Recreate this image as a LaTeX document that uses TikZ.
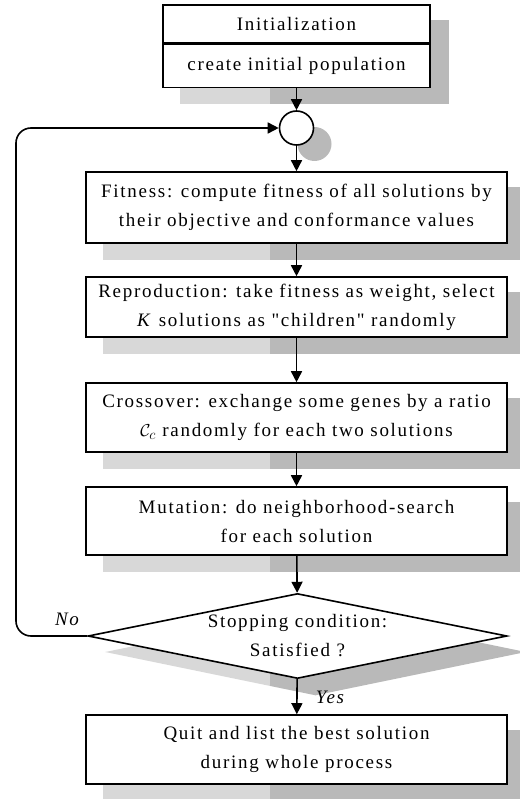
\documentclass[tikz,border=0pt]{standalone}
\usepackage{fontspec}
\setmainfont{Liberation Serif}[LetterSpace=9,Ligatures=TeXOff]
\usetikzlibrary{arrows.meta,shapes.geometric,backgrounds}
\begin{document}
\begin{tikzpicture}[x=1pt,y=-1pt,
  txt/.style={font=\fontsize{19}{29}\selectfont},
  box/.style={txt,draw,line width=1.6pt,fill=white,minimum width=421pt,inner sep=0pt,align=center},
  initbox/.style={box,minimum width=267pt},
  conn/.style={line width=1.6pt,-{Triangle[length=11pt,width=11pt]}},
  shadowc/.style={fill=gray!55},
  lbl/.style={font=\fontsize{19}{29}\selectfont\itshape,inner sep=0pt}]
\useasboundingbox (0,0) rectangle (519,799);
\clip (0,0) rectangle (519,799);

\node[initbox,minimum height=38pt] (initA) at (296.5,24) {Initialization};
\node[initbox,minimum height=43pt,anchor=north] (initB) at (initA.south) {create initial population};
\node[draw,circle,line width=1.6pt,fill=white,minimum size=34pt,inner sep=0pt] (circ) at (296.5,128) {};
\node[box,minimum height=71pt] (fit) at (296.5,207.5) {Fitness: compute fitness of all solutions by\\their objective and conformance values};
\node[box,minimum height=60pt] (rep) at (296.5,307) {Reproduction: take fitness as weight, select\\\textit{K} solutions as "children" randomly};
\node[box,minimum height=69pt] (cross) at (296.5,417.5) {Crossover: exchange some genes by a ratio\\$\mathcal{C}_c$ randomly for each two solutions};
\node[box,minimum height=68pt] (mut) at (296.5,521) {Mutation: do neighborhood-search\\for each solution};
\node[draw,diamond,line width=1.6pt,fill=white,minimum width=419pt,minimum height=85pt,inner sep=0pt] (dia) at (297.5,636) {};
\node[txt,align=center,inner sep=0pt] (diatext) at (dia.center) {Stopping condition:\\Satisfied ?};
\node[box,minimum height=69pt] (quit) at (296.5,749.5) {Quit and list the best solution\\during whole process};

\node[lbl] (no) at (67,619) {No};
\node[lbl] (yes) at (330,697) {Yes};

\coordinate (lb) at (16,636);
\coordinate (lt) at (16,128);

\draw[conn] (initB) -- (circ);
\draw[conn] (circ) -- (fit);
\draw[conn] (fit) -- (rep);
\draw[conn] (rep) -- (cross);
\draw[conn] (cross) -- (mut);
\draw[conn] (mut) -- (dia);
\draw[conn] (dia) -- (quit);
\draw[conn,rounded corners=15pt] (dia.west) -- (lb) -- (lt) -- (circ.west);

\begin{scope}[on background layer]
  \fill[shadowc] ([shift={(18,16)}]initA.north west) rectangle ([shift={(18,16)}]initB.south east);
  \fill[shadowc] ([shift={(18,16)}]circ.center) circle[radius=17pt];
  \foreach \n in {fit,rep,cross,mut,quit}
    \fill[shadowc] ([shift={(18,16)}]\n.north west) rectangle ([shift={(18,16)}]\n.south east);
  \fill[shadowc] ([shift={(18,16)}]dia.north) -- ([shift={(18,16)}]dia.east) -- ([shift={(18,16)}]dia.south) -- ([shift={(18,16)}]dia.west) -- cycle;
  \fill[white,opacity=0.45] (0,0) rectangle (270,799);
\end{scope}
\end{tikzpicture}
\end{document}
